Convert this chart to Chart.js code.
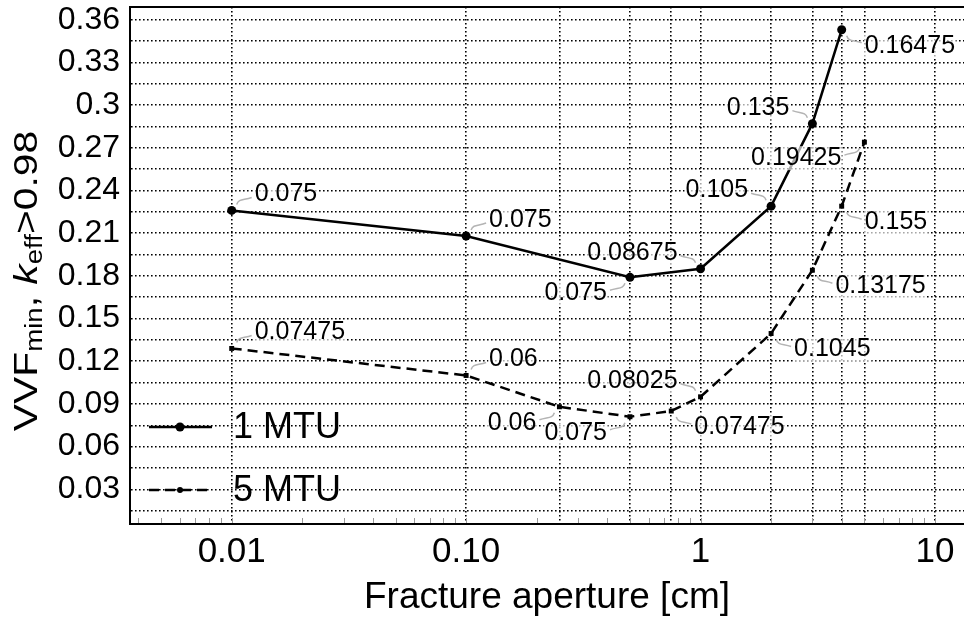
<!DOCTYPE html>
<html>
<head>
<meta charset="utf-8">
<script src="https://cdn.jsdelivr.net/npm/chart.js@4.4.0/dist/chart.umd.min.js"></script>
<style>
  html, body { margin: 0; padding: 0; background: #fff; }
</style>
</head>
<body>
<canvas id="vvf-chart" width="964" height="620"></canvas>
<script>
// 1 MTU series
const aperture1 = [0.01, 0.1, 0.5, 1, 2, 3, 4];
const vvf1 = [0.226, 0.208, 0.179, 0.185, 0.229, 0.287, 0.353];
const callout1 = ['0.075', '0.075', '0.075', '0.08675', '0.105', '0.135', '0.16475'];
const side1 = ['ne', 'ne', 'sw', 'nw', 'nw', 'nw', 'se'];

// 5 MTU series
const aperture5 = [0.01, 0.1, 0.25, 0.5, 0.75, 1, 2, 3, 4, 5];
const vvf5 = [0.129, 0.110, 0.088, 0.081, 0.085, 0.095, 0.1395, 0.184, 0.229, 0.274];
const callout5 = ['0.07475', '0.06', '0.06', '0.075', '0.07475', '0.08025', '0.1045', '0.13175', '0.155', '0.19425'];
const side5 = ['ne', 'ne', 'sw', 'sw', 'se', 'nw', 'se', 'se', 'se', 'sw'];

// axes
const xGridValues = [0.01, 0.1, 0.25, 0.5, 0.75, 1, 2, 3, 4, 5, 10];
const xTickValues = [0.01, 0.1, 1, 10];
const xTickText = ['0.01', '0.10', '1', '10'];
const yTickValues = [0.03, 0.06, 0.09, 0.12, 0.15, 0.18, 0.21, 0.24, 0.27, 0.3, 0.33, 0.36];

const FONT = '"Liberation Sans", Arial, Helvetica, sans-serif';
Chart.defaults.font.family = FONT;
Chart.defaults.color = '#000';

const ctx = document.getElementById('vvf-chart').getContext('2d');

function toPoints(xs, ys) {
    return xs.map((x, i) => ({ x: x, y: ys[i] }));
}

// callouts, minor ticks, frame, legend and axis titles
const decorations = {
    id: 'decorations',
    afterDatasetsDraw(chart) {
        const c = chart.ctx;
        const area = chart.chartArea;
        const xs = chart.scales.x;

        c.save();
        // top frame line
        c.strokeStyle = '#000';
        c.lineWidth = 2;
        c.beginPath();
        c.moveTo(area.left, area.top);
        c.lineTo(area.right, area.top);
        c.stroke();

        // minor ticks on the log axis
        c.strokeStyle = '#999';
        c.lineWidth = 1;
        for (let k = -3; k <= 1; k++) {
            for (let m = 1; m <= 9; m++) {
                const v = m * Math.pow(10, k);
                if (v < xs.min || v > xs.max) continue;
                const px = Math.round(xs.getPixelForValue(v)) + 0.5;
                c.beginPath();
                c.moveTo(px, area.bottom - 1);
                c.lineTo(px, area.bottom - 6);
                c.stroke();
            }
        }

        // callout labels
        c.font = '25px ' + FONT;
        c.textBaseline = 'middle';
        chart.data.datasets.forEach((ds, di) => {
            const meta = chart.getDatasetMeta(di);
            meta.data.forEach((pt, i) => {
                const side = ds.sides[i];
                const dx = side.indexOf('e') >= 0 ? 1 : -1;
                const dy = side.indexOf('n') >= 0 ? -1 : 1;
                const txt = ds.callouts[i];
                const tx = pt.x + dx * 23;
                const ty = pt.y + dy * 16;
                const w = c.measureText(txt).width;
                const bx = dx > 0 ? tx : tx - w;
                c.fillStyle = 'rgba(255,255,255,0.65)';
                c.fillRect(bx - 1, ty - 12, w + 2, 24);

                c.strokeStyle = '#b4b4b4';
                c.lineWidth = 1.5;
                c.beginPath();
                const x0 = pt.x + dx * 5, y0 = pt.y + dy * 6;
                const x1 = pt.x + dx * 20, y1 = pt.y + dy * 13;
                c.moveTo(x0, y0);
                c.bezierCurveTo(x0 + dx * 2, y0 + dy * 6, x1 - dx * 8, y1 - dy * 3, x1, y1);
                c.stroke();

                c.fillStyle = '#000';
                c.textAlign = dx > 0 ? 'left' : 'right';
                c.fillText(txt, tx, ty);
            });
        });

        // legend inside the plot
        const legendY = [427, 490];
        chart.data.datasets.forEach((ds, di) => {
            const y = legendY[di];
            c.strokeStyle = ds.borderColor;
            c.lineWidth = ds.borderWidth;
            c.setLineDash(ds.borderDash || []);
            c.beginPath();
            c.moveTo(149, y);
            c.lineTo(212, y);
            c.stroke();
            c.setLineDash([]);
            c.fillStyle = '#000';
            c.beginPath();
            c.arc(180, y, di === 0 ? 4.5 : 3, 0, Math.PI * 2);
            c.fill();
            c.font = '36px ' + FONT;
            c.textAlign = 'left';
            c.textBaseline = 'middle';
            c.fillText(ds.label, 233, y + 1);
        });

        // x axis title
        c.font = '37px ' + FONT;
        c.textAlign = 'center';
        c.textBaseline = 'middle';
        c.fillText('Fracture aperture [cm]', (area.left + area.right) / 2, 598);

        // y axis title with subscripts, slightly stretched along its run
        const parts = [
            { t: 'VVF', size: 34 },
            { t: 'min', size: 23, sub: true },
            { t: ', ', size: 34 },
            { t: 'k', size: 34, italic: true },
            { t: 'eff', size: 23, sub: true },
            { t: '>0.98', size: 34 }
        ];
        const fontOf = p => (p.italic ? 'italic ' : '') + p.size + 'px ' + FONT;
        let total = 0;
        parts.forEach(p => { c.font = fontOf(p); p.w = c.measureText(p.t).width; total += p.w; });
        c.translate(28, 281);
        c.rotate(-Math.PI / 2);
        c.scale(1.2, 1);
        c.textAlign = 'left';
        c.textBaseline = 'middle';
        let cx = -total / 2;
        parts.forEach(p => {
            c.font = fontOf(p);
            c.fillText(p.t, cx, p.sub ? 8 : 0);
            cx += p.w;
        });
        c.restore();
    }
};

const vvfChart = new Chart(ctx, {
    type: 'line',
    data: {
        datasets: [{
            label: '1 MTU',
            data: toPoints(aperture1, vvf1),
            callouts: callout1,
            sides: side1,
            borderColor: '#000',
            borderWidth: 2.5,
            pointStyle: 'circle',
            pointRadius: 4.5,
            pointBackgroundColor: '#000',
            pointBorderWidth: 0,
            tension: 0
        }, {
            label: '5 MTU',
            data: toPoints(aperture5, vvf5),
            callouts: callout5,
            sides: side5,
            borderColor: '#000',
            borderWidth: 2.5,
            borderDash: [10, 6],
            pointStyle: 'rect',
            pointRadius: 3.5,
            pointBackgroundColor: '#000',
            pointBorderWidth: 0,
            tension: 0
        }]
    },
    options: {
        responsive: false,
        animation: false,
        layout: { autoPadding: false, padding: { top: 7, right: 0, left: 0, bottom: 0 } },
        scales: {
            x: {
                type: 'logarithmic',
                min: 0.003683,
                max: 13.3,
                afterBuildTicks: axis => {
                    axis.ticks = xGridValues.map(v => ({ value: v }));
                },
                afterFit: axis => {
                    axis.height = 96;
                    axis.paddingLeft = 0;
                    axis.paddingRight = 0;
                },
                ticks: {
                    autoSkip: false,
                    maxRotation: 0,
                    padding: 7,
                    font: { size: 35 },
                    callback: v => {
                        const i = xTickValues.indexOf(v);
                        return i >= 0 ? xTickText[i] : '';
                    }
                },
                grid: { color: '#000', lineWidth: 1.6, drawTicks: false },
                border: { color: '#000', width: 2, dash: [1.6, 2.4] }
            },
            y: {
                type: 'linear',
                min: 0.0056,
                max: 0.369,
                afterBuildTicks: axis => {
                    const t = [];
                    for (let k = 1; k <= 24; k++) t.push({ value: +(k * 0.015).toFixed(3) });
                    axis.ticks = t;
                },
                afterFit: axis => {
                    axis.width = 130;
                    axis.paddingTop = 0;
                    axis.paddingBottom = 0;
                },
                ticks: {
                    autoSkip: false,
                    padding: 10,
                    font: { size: 32 },
                    callback: v => {
                        const hit = yTickValues.find(t => Math.abs(t - v) < 1e-6);
                        return hit !== undefined ? String(hit) : '';
                    }
                },
                grid: { color: '#000', lineWidth: 1.5, drawTicks: false },
                border: { color: '#000', width: 2, dash: [1.6, 2.4] }
            }
        },
        plugins: {
            legend: { display: false },
            tooltip: { enabled: false }
        }
    },
    plugins: [decorations]
});
</script>
</body>
</html>
